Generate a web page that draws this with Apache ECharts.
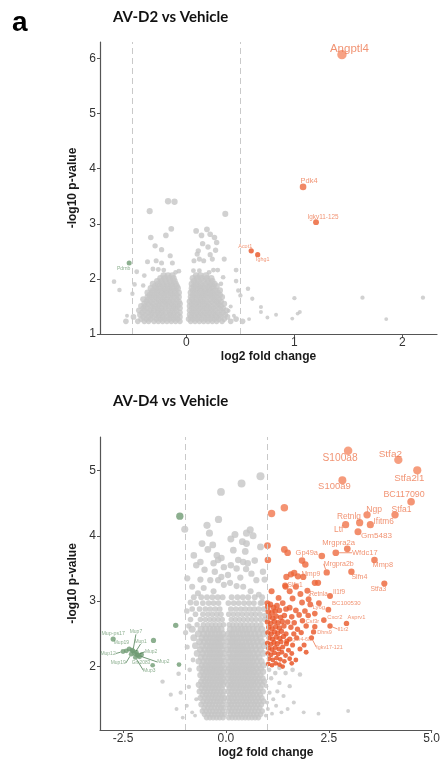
<!DOCTYPE html>
<html>
<head>
<meta charset="utf-8">
<script src="https://cdn.jsdelivr.net/npm/echarts@6/dist/echarts.min.js"></script>
<style>
html,body{margin:0;padding:0;background:#fff}
#chart{width:443px;height:760px}
</style>
</head>
<body>
<div id="chart"></div>
<script>
// ---- AV-D2 vs Vehicle ----
// dense part of the cloud, one row per -log10 p level: [y, x, x, ...]
var topGrayRows = [
  [1.23, -0.56,-0.45,-0.39,-0.35,-0.3,-0.26,-0.22,-0.18,-0.14,-0.1,-0.06, 0.04,0.08,0.12,0.16,0.2,0.24,0.28,0.33,0.41,0.52],
  [1.27, -0.42,-0.37,-0.33,-0.28,-0.24,-0.2,-0.16,-0.12,-0.08, 0.02,0.06,0.1,0.14,0.18,0.22,0.26,0.3,0.35,0.46],
  [1.31, -0.49,-0.4,-0.35,-0.31,-0.26,-0.22,-0.18,-0.14,-0.1,-0.06, 0.04,0.08,0.12,0.16,0.2,0.24,0.28,0.32,0.38],
  [1.35, -0.43,-0.38,-0.33,-0.29,-0.25,-0.21,-0.16,-0.12,-0.08, 0.03,0.07,0.11,0.15,0.19,0.23,0.27,0.31,0.36],
  [1.39, -0.41,-0.36,-0.32,-0.27,-0.23,-0.19,-0.15,-0.11,-0.06, 0.05,0.09,0.13,0.17,0.21,0.25,0.29,0.34],
  [1.43, -0.44,-0.39,-0.34,-0.3,-0.26,-0.22,-0.17,-0.13,-0.09, 0.03,0.07,0.11,0.15,0.19,0.23,0.27,0.32,0.37],
  [1.47, -0.4,-0.36,-0.31,-0.27,-0.23,-0.19,-0.14,-0.1,-0.06, 0.05,0.09,0.13,0.17,0.21,0.25,0.3,0.34],
  [1.51, -0.42,-0.38,-0.33,-0.29,-0.25,-0.2,-0.16,-0.12,-0.08, 0.03,0.07,0.11,0.15,0.19,0.23,0.28,0.32],
  [1.55, -0.39,-0.35,-0.31,-0.26,-0.22,-0.18,-0.14,-0.1,-0.06, 0.05,0.09,0.13,0.17,0.21,0.26,0.3,0.35],
  [1.59, -0.37,-0.33,-0.28,-0.24,-0.2,-0.16,-0.12,-0.07, 0.03,0.07,0.11,0.15,0.19,0.24,0.28,0.32],
  [1.63, -0.4,-0.35,-0.3,-0.26,-0.22,-0.18,-0.14,-0.09, 0.05,0.09,0.13,0.17,0.22,0.26,0.3],
  [1.67, -0.36,-0.32,-0.28,-0.24,-0.2,-0.15,-0.11,-0.07, 0.04,0.08,0.12,0.16,0.2,0.24,0.28,0.33],
  [1.71, -0.34,-0.3,-0.26,-0.21,-0.17,-0.13,-0.09, 0.06,0.1,0.14,0.18,0.22,0.26,0.31],
  [1.75, -0.36,-0.32,-0.27,-0.23,-0.19,-0.15,-0.11,-0.07, 0.04,0.08,0.12,0.16,0.2,0.24,0.29],
  [1.79, -0.31,-0.27,-0.22,-0.18,-0.14,-0.1, 0.06,0.1,0.14,0.18,0.22,0.27,0.31],
  [1.83, -0.33,-0.28,-0.24,-0.2,-0.16,-0.12,-0.08, 0.05,0.09,0.13,0.17,0.21,0.25],
  [1.87, -0.29,-0.25,-0.21,-0.17,-0.13,-0.09, 0.07,0.11,0.15,0.2,0.24,0.28],
  [1.91, -0.31,-0.26,-0.22,-0.18,-0.14,-0.1, 0.05,0.09,0.13,0.18,0.22,0.26],
  [1.96, -0.27,-0.23,-0.19,-0.15,-0.11, 0.07,0.11,0.16,0.2,0.24],
  [2.01, -0.24,-0.2,-0.16,-0.12, 0.06,0.1,0.14,0.19,0.23],
  [2.06, -0.21,-0.17,-0.13, 0.09,0.13,0.18]
];
// scattered non-significant genes
var topGrayPts = [
  [-0.17,3.41],[-0.11,3.40],[-0.34,3.23],[0.36,3.18],[-0.14,2.91],[-0.19,2.79],[-0.33,2.75],
  [-0.29,2.60],[-0.23,2.53],[-0.15,2.42],[-0.36,2.31],[-0.28,2.33],[-0.23,2.29],[-0.31,2.18],
  [-0.26,2.17],[-0.07,2.14],[-0.39,2.06],[-0.46,2.13],[-0.67,1.95],[-0.62,1.80],[-0.48,1.90],
  [-0.50,1.73],[-0.40,1.88],[-0.55,1.33],[-0.13,2.29],[-0.21,2.16],[-0.10,2.12],
  [0.09,2.87],[0.14,2.79],[0.19,2.90],[0.22,2.81],[0.26,2.75],[0.28,2.66],[0.15,2.64],
  [0.20,2.58],[0.11,2.51],[0.27,2.52],[0.22,2.44],[0.10,2.45],[0.07,2.33],[0.12,2.36],
  [0.16,2.33],[0.24,2.36],[0.29,2.16],[0.25,2.16],[0.21,2.12],[0.12,2.15],[0.065,2.15],
  [0.35,2.36],[0.46,2.16],[0.46,1.96],[0.48,1.79],[0.57,1.82],[0.34,2.03],[0.32,1.91],
  [0.50,1.70],[0.61,1.64],[1.00,1.65],[1.63,1.66],[2.19,1.66],[1.03,1.37],[0.83,1.35],
  [0.69,1.40],[0.69,1.49],[1.85,1.27],[0.98,1.28],[0.41,1.50],[0.39,1.42],[0.44,1.33],
  [1.05,1.40],[0.75,1.30],[0.58,1.27]
];
var topUp = [[1.44,6.07,'Angptl4'],[1.08,3.67,'Pdk4'],[1.20,3.03,'Igkv11-125'],[0.60,2.51,'Acot1'],[0.66,2.44,'Ighg1']];
var topDown = [[-0.53,2.29,'Pdrnb']];

// ---- AV-D4 vs Vehicle ----
var botGrayRows = [
  [1.22, -0.47,-0.39,-0.31,-0.23,-0.15,-0.07, 0.07,0.15,0.23,0.31,0.39,0.47,0.55,0.63,0.71,0.79],
  [1.27, -0.52,-0.43,-0.35,-0.27,-0.19,-0.11,-0.04, 0.11,0.19,0.27,0.35,0.43,0.51,0.59,0.67,0.75,0.84],
  [1.32, -0.57,-0.48,-0.4,-0.32,-0.24,-0.16,-0.08, 0.06,0.14,0.22,0.3,0.38,0.46,0.54,0.62,0.7,0.79,0.88],
  [1.37, -0.53,-0.44,-0.36,-0.28,-0.2,-0.12,-0.05, 0.09,0.17,0.25,0.33,0.41,0.49,0.57,0.65,0.73,0.82],
  [1.42, -0.6,-0.49,-0.41,-0.33,-0.25,-0.17,-0.09, 0.05,0.13,0.21,0.29,0.37,0.45,0.53,0.61,0.69,0.77,0.86],
  [1.47, -0.55,-0.46,-0.38,-0.3,-0.22,-0.14,-0.06, 0.09,0.17,0.25,0.33,0.41,0.49,0.57,0.65,0.73,0.81,0.91],
  [1.52, -0.62,-0.51,-0.43,-0.35,-0.27,-0.19,-0.11,-0.04, 0.06,0.13,0.21,0.29,0.37,0.45,0.53,0.61,0.69,0.78,0.87],
  [1.57, -0.57,-0.48,-0.4,-0.32,-0.24,-0.16,-0.08, 0.1,0.18,0.26,0.34,0.42,0.5,0.58,0.66,0.74,0.83],
  [1.62, -0.64,-0.53,-0.45,-0.37,-0.29,-0.21,-0.13,-0.05, 0.06,0.14,0.22,0.3,0.38,0.46,0.54,0.62,0.7,0.79,0.9],
  [1.67, -0.59,-0.5,-0.42,-0.34,-0.26,-0.18,-0.1, 0.09,0.17,0.25,0.33,0.41,0.49,0.57,0.65,0.74,0.84],
  [1.72, -0.66,-0.55,-0.47,-0.39,-0.31,-0.23,-0.15,-0.07, 0.05,0.13,0.21,0.29,0.37,0.45,0.53,0.61,0.69,0.78,0.88],
  [1.77, -0.6,-0.51,-0.43,-0.35,-0.27,-0.19,-0.11,-0.04, 0.1,0.18,0.26,0.34,0.42,0.5,0.58,0.66,0.74,0.83,0.93],
  [1.82, -0.56,-0.47,-0.39,-0.31,-0.23,-0.15,-0.07, 0.06,0.14,0.22,0.3,0.38,0.46,0.54,0.62,0.7,0.79,0.89],
  [1.87, -0.62,-0.52,-0.44,-0.36,-0.28,-0.2,-0.12,-0.05, 0.09,0.17,0.25,0.33,0.41,0.49,0.57,0.65,0.74,0.84],
  [1.92, -0.57,-0.48,-0.4,-0.32,-0.24,-0.16,-0.08, 0.05,0.13,0.21,0.29,0.37,0.45,0.53,0.61,0.69,0.78,0.9],
  [1.97, -0.64,-0.53,-0.45,-0.37,-0.29,-0.21,-0.13,-0.05, 0.09,0.17,0.25,0.33,0.41,0.49,0.57,0.65,0.74,0.85],
  [2.02, -0.58,-0.49,-0.41,-0.33,-0.25,-0.17,-0.09, 0.06,0.14,0.22,0.3,0.38,0.46,0.54,0.62,0.7,0.8,0.91],
  [2.08, -0.66,-0.54,-0.45,-0.37,-0.29,-0.21,-0.13,-0.05, 0.1,0.18,0.26,0.34,0.42,0.5,0.58,0.66,0.75,0.86],
  [2.14, -0.6,-0.5,-0.41,-0.33,-0.25,-0.17,-0.09, 0.06,0.14,0.22,0.3,0.38,0.46,0.54,0.62,0.71,0.81],
  [2.20, -0.7,-0.56,-0.46,-0.38,-0.3,-0.22,-0.14,-0.06, 0.09,0.18,0.26,0.34,0.42,0.5,0.58,0.67,0.77,0.9],
  [2.26, -0.62,-0.51,-0.42,-0.34,-0.26,-0.18,-0.1, 0.05,0.13,0.22,0.3,0.38,0.46,0.54,0.63,0.73,0.84],
  [2.32, -0.74,-0.57,-0.47,-0.38,-0.3,-0.22,-0.14,-0.06, 0.1,0.18,0.26,0.34,0.42,0.51,0.6,0.7,0.8,0.93],
  [2.38, -0.64,-0.52,-0.43,-0.34,-0.26,-0.18,-0.1, 0.06,0.14,0.22,0.3,0.39,0.48,0.57,0.66,0.76,0.87],
  [2.44, -0.78,-0.58,-0.48,-0.39,-0.3,-0.22,-0.14,-0.06, 0.1,0.18,0.27,0.36,0.45,0.54,0.63,0.73,0.83],
  [2.50, -0.67,-0.54,-0.44,-0.35,-0.26,-0.17,-0.08, 0.07,0.15,0.24,0.33,0.42,0.51,0.6,0.7,0.8,0.92],
  [2.57, -0.82,-0.6,-0.49,-0.39,-0.3,-0.21,-0.12, 0.11,0.2,0.29,0.38,0.47,0.56,0.66,0.76,0.87]
];
// thinner band above the packed cloud
var botGrayMidRows = [
  [2.64, -0.7,-0.55,-0.44,-0.34,-0.25,-0.15,-0.06, 0.08,0.17,0.26,0.35,0.44,0.54,0.64,0.74,0.85],
  [2.72, -0.86,-0.62,-0.5,-0.39,-0.29,-0.19,-0.09, 0.13,0.23,0.33,0.43,0.53,0.63,0.73,0.84,0.95],
  [2.80, -0.74,-0.56,-0.44,-0.33,-0.22,-0.12, 0.07,0.18,0.29,0.4,0.51,0.62,0.72,0.83],
  [2.88, -0.82,-0.64,-0.5,-0.38,-0.26,-0.15, 0.12,0.24,0.36,0.47,0.58,0.69,0.8,0.92],
  [2.97, -0.72,-0.56,-0.42,-0.3,-0.18, 0.06,0.19,0.31,0.44,0.56,0.68,0.84],
  [3.06, -0.78,-0.6,-0.46,-0.33,-0.2,-0.08, 0.14,0.28,0.41,0.54,0.7,0.88]
];
var botGrayPts = [
  [0.84,4.91],[0.38,4.80],[-0.12,4.67],[-1.00,4.10],[-0.18,4.25],[-0.46,4.16],[-0.40,4.04],
  [0.22,4.02],[0.50,4.04],[0.59,4.09],[0.40,3.91],[0.50,3.88],[-0.32,3.86],[0.18,3.78],
  [-0.44,3.79],[-0.22,3.70],[-0.78,3.70],[0.47,3.76],[0.84,3.83],[-0.19,3.63],[-0.11,3.66],
  [-0.62,3.60],[-0.72,3.55],[0.30,3.63],[0.42,3.60],[0.53,3.58],[0.26,3.50],[0.49,3.49],
  [0.90,3.45],[-0.11,3.37],[-0.19,3.32],[-0.94,3.35],[-0.62,3.33],[-0.38,3.32],[0.74,3.32],
  [0.94,3.33],[0.26,3.23],[0.42,3.22],[-0.82,3.22],[-0.54,3.20],[-0.27,3.45],[0.05,3.40],
  [0.12,3.55],[-0.05,3.52],[0.62,3.42],[0.70,3.62],[-0.52,3.48],[-0.30,3.58],[0.35,3.36],
  [0.10,3.28],[-0.05,3.25],[-0.68,3.12],[-0.30,3.15],[0.60,3.15],[0.80,3.10],[-0.86,2.98],
  [-0.95,2.85],[-0.90,2.62],[0.88,2.98],[0.95,2.78],[-0.98,2.52],[0.66,4.00],[-0.58,3.88],
  [0.12,3.95],[-0.94,2.30],[-0.88,1.95],[-0.80,2.10],[-1.34,1.57],[-1.54,1.77],[-1.15,1.89],
  [-0.90,1.69],[-0.95,1.40],[-0.82,1.30],[-1.20,1.35],[-0.75,1.25],[-0.72,1.50],[-1.05,1.22],
  [-1.10,1.60],[1.05,1.95],[1.10,1.82],[1.20,1.90],[1.30,1.75],[1.06,1.60],[1.15,1.50],
  [1.25,1.62],[1.40,1.55],[1.55,1.70],[1.02,1.35],[1.12,1.28],[1.22,1.40],[1.35,1.30],
  [1.50,1.35],[1.65,1.45],[1.89,1.30],[2.97,1.32],[0.97,1.25],[1.00,1.45],[1.45,1.90],
  [1.62,1.95],[1.80,1.88],[2.25,1.28],[1.30,1.98],[0.98,1.70]
];
var botUp = [
  [1.11,4.34],[1.42,4.43],[1.01,3.85],[1.02,3.63],[1.42,3.79],[1.50,3.74],[1.85,3.62],[1.93,3.56],
  [1.47,3.37],[1.58,3.41],[1.66,3.43],[1.75,3.38],[1.88,3.37],[2.24,3.28],[1.70,3.22],[1.45,3.22],
  [1.11,3.15],[1.55,3.15],[1.81,3.11],[1.98,3.16],[1.28,3.05],[1.62,3.04],[1.85,2.98],[2.05,2.95],
  [2.26,2.97],[1.38,2.97],[1.01,2.97],
  [1.02,2.92],[1.08,2.95],[1.16,2.90],[1.24,2.93],[1.03,2.84],[1.12,2.82],[1.20,2.85],[1.30,2.86],
  [1.46,2.88],[1.55,2.90],[1.70,2.86],[1.92,2.85],[1.05,2.76],[1.14,2.74],[1.22,2.77],[1.33,2.75],
  [1.42,2.78],[1.60,2.76],[1.78,2.79],[2.00,2.78],[1.01,2.68],[1.09,2.66],[1.18,2.69],[1.27,2.67],
  [1.37,2.69],[1.50,2.68],[1.66,2.67],[1.86,2.70],[1.04,2.60],[1.12,2.58],[1.21,2.61],[1.30,2.59],
  [1.41,2.62],[1.58,2.60],[1.74,2.57],[1.95,2.62],[1.02,2.52],[1.10,2.50],[1.18,2.53],[1.26,2.51],
  [1.35,2.54],[1.46,2.50],[1.65,2.50],[1.83,2.52],[1.05,2.44],[1.13,2.42],[1.22,2.45],[1.31,2.43],
  [1.40,2.46],[1.55,2.42],[1.72,2.44],[1.01,2.36],[1.09,2.34],[1.17,2.37],[1.25,2.35],[1.34,2.38],
  [1.47,2.35],[1.62,2.33],[1.90,2.33],[1.04,2.28],[1.12,2.26],[1.20,2.29],[1.29,2.27],[1.38,2.30],
  [1.52,2.25],[1.80,2.27],[1.02,2.20],[1.10,2.18],[1.18,2.21],[1.27,2.19],[1.36,2.22],[1.45,2.17],
  [1.60,2.20],[1.95,2.22],[1.05,2.12],[1.14,2.10],[1.23,2.13],[1.32,2.11],[1.42,2.08],[1.55,2.12],
  [1.70,2.10],[1.03,2.04],[1.12,2.02],[1.21,2.05],[1.30,2.03],[1.38,2.00],[1.60,2.05]
];
var botUpLab = [
  [2.97,5.30,'S100a8'],[4.19,5.16,'Stfa2'],[4.65,5.00,'Stfa2l1'],[2.83,4.85,'S100a9'],
  [4.50,4.52,'BC117090'],[4.11,4.32,'Stfa1'],[3.43,4.32,'Ngp'],[3.25,4.20,'Retnlg'],
  [3.51,4.17,'Ifitm6'],[2.91,4.17,'Ltf'],[3.21,4.06,'Gm5483'],[2.95,3.80,'Mrgpra2a'],
  [2.67,3.74,'Wfdc17'],[2.33,3.69,'Gp49a'],[3.61,3.63,'Mmp8'],[2.45,3.44,'Mrgpra2b'],
  [3.05,3.45,'Slfn4'],[3.85,3.27,'Stfa3'],[2.16,3.28,'Mmp9'],[1.44,3.24,'Slfn1'],
  [2.01,3.03,'Retnla'],[2.53,3.08,'Il1f9'],[2.16,2.81,'Ly6g'],[2.49,2.87,'BC100530'],
  [2.38,2.71,'Cxcr2'],[2.93,2.66,'Asprv1'],[2.16,2.61,'Csf3r'],[2.53,2.62,'Il1r2'],
  [2.13,2.53,'Dhrs9'],[2.08,2.44,'Igkv17-121'],[1.48,2.39,'Igkv4-68']
];
var botDown = [[-1.12,4.30],[-1.22,2.63],[-1.14,2.03],[-1.76,2.40],[-1.78,2.02],[-2.35,2.27],[-2.28,2.25],[-2.18,2.22],[-2.05,2.18]];
var botDownLab = [
  [-2.74,2.42,'Mup-ps17'],[-2.26,2.24,'Mup7'],[-2.42,2.24,'Mup19'],[-2.22,2.20,'Mup1'],
  [-2.50,2.23,'Mup12'],[-2.16,2.18,'Mup2'],[-2.30,2.19,'Mup19'],[-2.10,2.15,'Gm2083'],
  [-2.13,2.17,'Mup2'],[-2.20,2.14,'Mup3']
];

// label placement (pixel offsets from point centre) and leader lines
var topUpOff = [[7.5,-6],[6,-6],[7,-5],[-6,-4.3],[5,5]];
var topDownOff = [[-5.5,5.4]];
var botUpOff = [[-8,7],[-8,-6],[-8,7.5],[-8,6],[-7,-7],[6.5,-5.5],[7,-5.5],[-10.7,-6],[13.3,-2.6],[-7,5],[18.4,3.6],
  [-8.7,-6.3],[29,0],[-15,-3],[8.3,5.3],[12,-8.5],[8,5.5],[-6,6],[-4,-8.5],[10,0],[10,-5],[9,-4],[4,-6.6],[18,-6],
  [11,-3],[10,-5.6],[-2.3,-5.7],[13,3],[11,0.7],[18,9.5],[14,-1]];
var botUpLine = [0,0,0,0,0,0,0,0,0,0,0,0,1,0,0,1,0,0,0,0,1,0,0,0,0,0,0,1,0,1,0];
var botDownOff = [[0,-6],[3,-19],[-5,-8],[6,-12],[-15,2],[14,-3],[-13,9],[1.5,6],[25,6.5],[14,13]];
var botDownLine = [0,1,0,1,1,1,1,0,1,1];

var GRAY = '#c6c6c6', GREEN = '#6f9b73', RED_TXT = '#ee7850';

function rowsToPoints(rows) {
  var pts = [];
  rows.forEach(function (r) {
    for (var i = 1; i < r.length; i++) pts.push([r[i], r[0]]);
  });
  return pts;
}
// point size grows with significance, as in the ggplot original
function sizeOf(v) { return 2.4 + 1.15 * v[1]; }
// the packed cloud overlaps more, so its dots are drawn a little larger
function cloudSize(v) { return 4.2 + 1.15 * v[1]; }

function labelItems(arr, lines) {
  return arr.map(function (d, i) {
    return {
      value: [d[0], d[1]],
      name: d[2],
      label: { fontSize: 1.2 + 1.7 * d[1] },
      labelLine: { show: !!(lines && lines[i]) }
    };
  });
}

function labelSeries(idx, arr, offs, lines, color, txtColor, lineColor) {
  return {
    type: 'scatter',
    xAxisIndex: idx, yAxisIndex: idx,
    symbolSize: sizeOf,
    itemStyle: { color: color },
    data: labelItems(arr, lines),
    label: {
      show: true, position: 'inside', formatter: '{b}',
      color: txtColor, fontFamily: 'Liberation Sans', textBorderWidth: 0
    },
    labelLine: { show: false, lineStyle: { color: lineColor, width: 0.8 } },
    labelLayout: function (p) {
      var o = offs[p.dataIndex];
      return { dx: o[0], dy: o[1] };
    },
    z: 4
  };
}

function cutoffLines(v) {
  return {
    silent: true, symbol: 'none', animation: false,
    label: { show: false },
    lineStyle: { type: [6, 4], color: '#c9c9c9', width: 1 },
    data: [{ xAxis: -v }, { xAxis: v }]
  };
}

function graySeries(idx, size, data, cut) {
  var s = {
    type: 'scatter', xAxisIndex: idx, yAxisIndex: idx, symbolSize: size,
    itemStyle: { color: GRAY }, z: 2, data: data
  };
  if (cut) s.markLine = cutoffLines(cut);
  return s;
}

function xAx(idx, min, max, ticks, fmt) {
  return {
    gridIndex: idx, type: 'value', min: min, max: max,
    name: 'log2 fold change', nameLocation: 'middle', nameGap: 17,
    nameTextStyle: { fontWeight: 'bold', fontSize: 12, color: '#1a1a1a', fontFamily: 'Liberation Sans' },
    axisLine: { onZero: false, lineStyle: { color: '#555', width: 1.2 } },
    axisTick: { customValues: ticks, length: 3, lineStyle: { color: '#555' } },
    axisLabel: { customValues: ticks, color: '#333', fontSize: 12, margin: 3, fontFamily: 'Liberation Sans', formatter: fmt },
    splitLine: { show: false }
  };
}
function yAx(idx, min, max, ticks) {
  return {
    gridIndex: idx, type: 'value', min: min, max: max,
    name: '-log10 p-value', nameLocation: 'middle', nameGap: 14,
    nameTextStyle: { fontWeight: 'bold', fontSize: 12, color: '#1a1a1a', fontFamily: 'Liberation Sans' },
    axisLine: { onZero: false, lineStyle: { color: '#555', width: 1.2 } },
    axisTick: { customValues: ticks, length: 3, lineStyle: { color: '#555' } },
    axisLabel: { customValues: ticks, color: '#333', fontSize: 12, margin: 4, fontFamily: 'Liberation Sans' },
    splitLine: { show: false }
  };
}

var chart = echarts.init(document.getElementById('chart'));
var option = {
  animation: false,
  backgroundColor: '#fff',
  title: [
    { text: 'a', left: 12, top: 9, padding: 0, textStyle: { fontSize: 28, fontWeight: 'bold', fontFamily: 'Liberation Sans', color: '#000' } },
    { text: 'AV-D2 vs Vehicle', left: 113, top: 10, padding: 0, textStyle: { fontSize: 15, fontWeight: 'bold', fontFamily: 'Lato', color: '#111' } },
    { text: 'AV-D4 vs Vehicle', left: 113, top: 394, padding: 0, textStyle: { fontSize: 15, fontWeight: 'bold', fontFamily: 'Lato', color: '#111' } }
  ],
  grid: [
    { left: 100, right: 6, top: 42, height: 292 },
    { left: 100, right: 6, top: 437, height: 293 }
  ],
  xAxis: [
    xAx(0, -0.8, 2.32, [0, 1, 2], function (v) { return String(v); }),
    xAx(1, -3.06, 5.0, [-2.5, 0, 2.5, 5], function (v) { return v.toFixed(1); })
  ],
  yAxis: [
    yAx(0, 1, 6.3, [1, 2, 3, 4, 5, 6]),
    yAx(1, 1.03, 5.51, [2, 3, 4, 5])
  ],
  visualMap: [{
    type: 'continuous', show: false, seriesIndex: [3, 8, 9], dimension: 1,
    min: 2, max: 5.3, inRange: { color: ['#e64a19', '#f58a64'] }
  }],
  series: [
    graySeries(0, cloudSize, rowsToPoints(topGrayRows), 0.5),
    graySeries(0, sizeOf, topGrayPts, 0),
    labelSeries(0, topDown, topDownOff, null, GREEN, GREEN, GREEN),
    labelSeries(0, topUp, topUpOff, null, '#f07850', RED_TXT, RED_TXT),
    graySeries(1, cloudSize, rowsToPoints(botGrayRows), 1),
    graySeries(1, sizeOf, rowsToPoints(botGrayMidRows).concat(botGrayPts), 0),
    {
      type: 'scatter', xAxisIndex: 1, yAxisIndex: 1, symbolSize: sizeOf,
      itemStyle: { color: GREEN }, z: 3, data: botDown
    },
    labelSeries(1, botDownLab, botDownOff, botDownLine, GREEN, GREEN, '#4f7f55'),
    {
      type: 'scatter', xAxisIndex: 1, yAxisIndex: 1, symbolSize: sizeOf,
      itemStyle: { color: '#e85a2a' }, z: 3, data: botUp
    },
    labelSeries(1, botUpLab, botUpOff, botUpLine, '#f07850', RED_TXT, RED_TXT)
  ]
};
chart.setOption(option);
</script>
</body>
</html>
